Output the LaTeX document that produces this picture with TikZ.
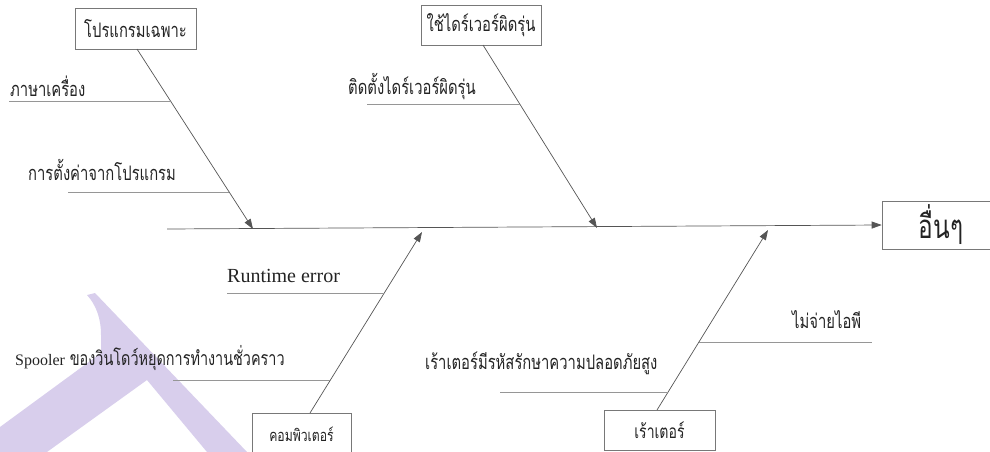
\documentclass[tikz,border=0pt]{standalone}
\usepackage{fontspec}
\setmainfont{Liberation Serif}
\newfontfamily\thai[Script=Thai,FakeStretch=0.74]{Loma}
\usetikzlibrary{arrows.meta}
\definecolor{wm}{RGB}{216,206,236}
\definecolor{ln}{RGB}{85,85,85}
\definecolor{bxl}{RGB}{120,120,120}
\definecolor{stub}{RGB}{150,150,150}
\definecolor{txt}{RGB}{35,35,35}
\tikzset{
  bx/.style={draw=bxl, line width=0.6pt, inner sep=0pt, text=txt, font=\thai\fontsize{20}{24}\selectfont},
  lbl/.style={inner sep=0pt, text=txt, font=\thai\fontsize{20}{24}\selectfont},
  bone/.style={draw=ln, line width=0.7pt, -{Triangle[length=10pt,width=7pt]}},
  stubline/.style={draw=stub, line width=0.7pt}
}
\begin{document}
\begin{tikzpicture}[x=1pt,y=-1pt]
\useasboundingbox (0,0) rectangle (990,452);
% watermark
\fill[wm] (87,295) -- (95,293) -- (247,452) -- (207,452) -- (147,380) -- (47,452) -- (0,452) -- (0,427) -- (101,353) -- (101,335) .. controls (101,318) and (96,305) .. (87,295) -- cycle;
% boxes
\node[bx, minimum width=121pt, minimum height=41pt] (b1) at (135.5,28.5) {โปรแกรมเฉพาะ};
\node[bx, minimum width=120pt, minimum height=40pt] (b2) at (481,25) {ใช้ไดร์เวอร์ผิดรุ่น};
\node[bx, minimum width=118pt, minimum height=48pt, font=\thai\fontsize{33}{38}\selectfont] (b3) at (941,225) {อื่นๆ};
\node[bx, minimum width=99pt, minimum height=42pt, font=\thai\fontsize{16.5}{20}\selectfont] (b4) at (301.5,434) {คอมพิวเตอร์};
\node[bx, minimum width=111pt, minimum height=40pt, font=\thai\fontsize{19}{22}\selectfont] (b5) at (659.5,430) {เร้าเตอร์};
% spine
\coordinate (sp0) at (167,229);
\draw[bone] (sp0) -- (b3.west);
% spine points
\coordinate (t1) at (253,229);
\coordinate (t2) at (597,228);
\coordinate (t3) at (422,232);
\coordinate (t4) at (768,230);
\coordinate (o1) at (137,49);
\coordinate (o2) at (483,45);
\coordinate (o4) at (310,413);
\coordinate (o5) at (657,410);
\draw[bone] (o1) -- (t1);
\draw[bone] (o2) -- (t2);
\draw[bone] (o4) -- (t3);
\draw[bone] (o5) -- (t4);
% stubs
\coordinate (s1a) at (9,101);  \coordinate (s1b) at (170,101);
\coordinate (s2a) at (68,192); \coordinate (s2b) at (229,192);
\coordinate (s3a) at (367,104);\coordinate (s3b) at (520,104);
\coordinate (s4a) at (227,293);\coordinate (s4b) at (384,293);
\coordinate (s5a) at (173,380);\coordinate (s5b) at (330,380);
\coordinate (s6a) at (699,342);\coordinate (s6b) at (872,342);
\coordinate (s7a) at (500,392);\coordinate (s7b) at (668,392);
\draw[stubline] (s1a) -- (s1b);
\draw[stubline] (s2a) -- (s2b);
\draw[stubline] (s3a) -- (s3b);
\draw[stubline] (s4a) -- (s4b);
\draw[stubline] (s5a) -- (s5b);
\draw[stubline] (s6a) -- (s6b);
\draw[stubline] (s7a) -- (s7b);
% labels
\node[lbl, anchor=west] (l1) at (10,86) {ภาษาเครื่อง};
\node[lbl, anchor=west] (l2) at (28,170) {การตั้งค่าจากโปรแกรม};
\node[lbl, anchor=west] (l3) at (348,87) {ติดตั้งไดร์เวอร์ผิดรุ่น};
\node[inner sep=0pt, anchor=base west, text=txt, font=\fontsize{20}{24}\selectfont] (l4) at (227,282) {Runtime error};
\node[lbl, anchor=west, font=\thai\fontsize{19.5}{23}\selectfont] (l5) at (15,358) {{\rmfamily\fontsize{16}{19}\selectfont Spooler} ของวินโดว์หยุดการทำงานชั่วคราว};
\node[lbl, anchor=west] (l6) at (792,320) {ไม่จ่ายไอพี};
\node[lbl, anchor=west] (l7) at (425,363) {เร้าเตอร์มีรหัสรักษาความปลอดภัยสูง};
\end{tikzpicture}
\end{document}
